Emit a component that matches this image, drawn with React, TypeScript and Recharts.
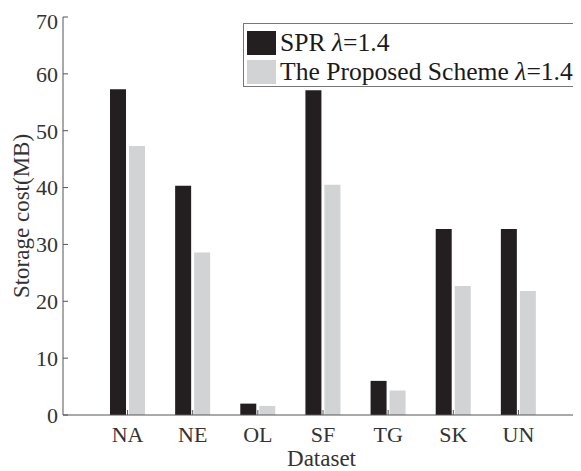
import React from 'react';
import { BarChart, Bar, XAxis, YAxis, Legend, Label } from 'recharts';

const categories = ['NA', 'NE', 'OL', 'SF', 'TG', 'SK', 'UN'];
const sprValues = [57.3, 40.3, 2.0, 57.1, 6.0, 32.7, 32.7];
const proposedValues = [47.3, 28.6, 1.6, 40.5, 4.3, 22.7, 21.8];
const yTicks = [0, 10, 20, 30, 40, 50, 60, 70];
const seriesPrefix = ['SPR ', 'The Proposed Scheme '];
const seriesSuffix = '=1.4';

const data = categories.map((c, i) => ({ name: c, spr: sprValues[i], proposed: proposedValues[i] }));

const FONT = 'Liberation Serif';
const AX = '#555555';
const DARK = '#231f20';
const LIGHT = '#d1d3d4';

const LegendBox = () => (
  <div
    style={{
      position: 'absolute',
      left: 235,
      top: 15,
      width: 333,
      height: 64,
      border: '1px solid #777',
      background: '#fff',
      fontFamily: FONT,
      fontSize: 25.6,
      color: '#1a1a1a',
      padding: '4px 0 0 3px',
      boxSizing: 'border-box',
    }}
  >
    {[DARK, LIGHT].map((col, i) => (
      <div key={i} style={{ display: 'flex', alignItems: 'center', height: 29, whiteSpace: 'nowrap' }}>
        <span style={{ display: 'inline-block', width: 29, height: 24, background: col, marginRight: 4 }} />
        <span>
          {seriesPrefix[i]}
          <i>{'\u03bb'}</i>
          {seriesSuffix}
        </span>
      </div>
    ))}
  </div>
);

export default function App() {
  const tickStyle = { fontFamily: FONT, fontSize: 22, fill: '#333' };
  return (
    <div style={{ position: 'relative', width: 573, height: 463, fontFamily: FONT }}>
      <BarChart
        width={573}
        height={463}
        data={data}
        margin={{ top: 9, right: 1, left: 0, bottom: 0 }}
        barSize={16}
        barGap={3}
      >
        <XAxis
          dataKey="name"
          xAxisId="bottom"
          orientation="bottom"
          height={56}
          padding={{ left: 32, right: 29 }}
          stroke={AX}
          tick={tickStyle}
          tickSize={-5}
          tickMargin={16}
        >
          <Label value="Dataset" position="insideBottom" offset={5} style={{ fontFamily: FONT, fontSize: 23, fill: '#333' }} />
        </XAxis>
        <XAxis
          dataKey="name"
          xAxisId="top"
          orientation="top"
          height={0}
          mirror
          padding={{ left: 32, right: 29 }}
          stroke={AX}
          tickFormatter={() => ''}
          tickSize={5}
        />
        <YAxis
          yAxisId="left"
          width={55}
          domain={[0, 70]}
          ticks={yTicks}
          stroke={AX}
          tick={tickStyle}
          tickSize={-5}
          tickMargin={10}
        >
          <Label
            value="Storage cost(MB)"
            angle={-90}
            position="insideLeft"
            offset={13}
            style={{ textAnchor: 'middle', fontFamily: FONT, fontSize: 23, fill: '#333' }}
          />
        </YAxis>
        <YAxis
          yAxisId="right"
          orientation="right"
          width={0}
          mirror
          domain={[0, 70]}
          ticks={yTicks}
          stroke={AX}
          tickFormatter={() => ''}
          tickSize={5}
        />
        <Legend layout="horizontal" verticalAlign="middle" align="center" content={() => null} />
        <Bar dataKey="spr" xAxisId="bottom" yAxisId="left" fill={DARK} isAnimationActive={false} />
        <Bar dataKey="proposed" xAxisId="bottom" yAxisId="left" fill={LIGHT} isAnimationActive={false} />
      </BarChart>
      <LegendBox />
    </div>
  );
}
